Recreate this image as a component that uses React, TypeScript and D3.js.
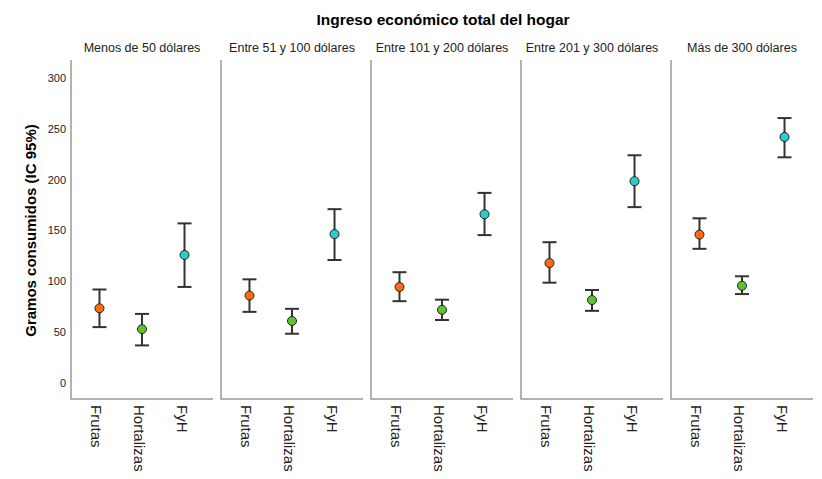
import { useEffect, useRef } from 'react';
import * as d3 from 'd3';

const panels = [
  'Menos de 50 dólares',
  'Entre 51 y 100 dólares',
  'Entre 101 y 200 dólares',
  'Entre 201 y 300 dólares',
  'Más de 300 dólares',
];
const categories = ['Frutas', 'Hortalizas', 'FyH'];
const colors = ['#ff6a0d', '#5ec22d', '#2ccccc'];

// media, límite inferior y superior (IC 95%) por panel
const frutasMean = [73.5, 86, 94.5, 118, 146];
const frutasLow = [55, 70, 80.5, 98.7, 132];
const frutasHigh = [92, 102, 109, 138.5, 162];

const hortMean = [53, 61, 72, 81.6, 95.7];
const hortLow = [37, 48.5, 62, 71, 87.5];
const hortHigh = [68, 73, 82, 91.5, 105];

const fyhMean = [126, 146.5, 166, 198.5, 242];
const fyhLow = [94.5, 121, 145.5, 173, 222];
const fyhHigh = [157, 171, 187, 224, 260.6];

const yTicks = [0, 50, 100, 150, 200, 250, 300];

export default function App() {
  const ref = useRef<SVGSVGElement>(null);

  useEffect(() => {
    const svg = d3.select(ref.current);
    svg.selectAll('*').remove();
    const font = 'Liberation Sans, Arial, sans-serif';

    const top = 60;
    const bottom = 399;
    const left0 = 71;
    const panelStep = 150;
    const panelW = 142;

    const y = d3.scaleLinear().domain([-15.7, 317.7]).range([bottom, top]);
    const x = d3.scalePoint().domain(categories).range([0, panelW]).padding(0.67);

    const means = [frutasMean, hortMean, fyhMean];
    const lows = [frutasLow, hortLow, fyhLow];
    const highs = [frutasHigh, hortHigh, fyhHigh];

    // título
    svg.append('text')
      .attr('x', 443).attr('y', 25)
      .attr('text-anchor', 'middle')
      .style('font-family', font).style('font-size', '15.5px').style('font-weight', 'bold')
      .text('Ingreso económico total del hogar');

    // eje y etiqueta
    svg.append('text')
      .attr('transform', `translate(36,${(top + bottom) / 2 + 1}) rotate(-90)`)
      .attr('text-anchor', 'middle')
      .style('font-family', font).style('font-size', '15px').style('font-weight', 'bold')
      .text('Gramos consumidos (IC 95%)');

    svg.append('g').selectAll('text')
      .data(yTicks).enter().append('text')
      .attr('x', 66).attr('y', d => y(d)).attr('dy', '0.35em')
      .attr('text-anchor', 'end')
      .style('font-family', font).style('font-size', '11px').attr('fill', '#222')
      .text(d => d);

    panels.forEach((p, i) => {
      const g = svg.append('g').attr('transform', `translate(${left0 + i * panelStep},0)`);

      g.append('text')
        .attr('x', panelW / 2).attr('y', 52)
        .attr('text-anchor', 'middle')
        .style('font-family', font).style('font-size', '12.5px').attr('fill', '#222')
        .text(p);

      g.append('path')
        .attr('d', `M0,${top}V${bottom}H${panelW}`)
        .attr('fill', 'none').attr('stroke', '#999').attr('stroke-width', 1.5);

      categories.forEach((c, j) => {
        const cx = x(c) as number;
        const lo = y(lows[j][i]);
        const hi = y(highs[j][i]);
        g.append('line').attr('x1', cx).attr('x2', cx).attr('y1', lo).attr('y2', hi)
          .attr('stroke', '#333').attr('stroke-width', 2);
        [lo, hi].forEach(v => {
          g.append('line').attr('x1', cx - 7).attr('x2', cx + 7).attr('y1', v).attr('y2', v)
            .attr('stroke', '#333').attr('stroke-width', 2);
        });
        g.append('circle').attr('cx', cx).attr('cy', y(means[j][i])).attr('r', 4.5)
          .attr('fill', colors[j]).attr('stroke', '#222').attr('stroke-width', 1);

        g.append('text')
          .attr('transform', `translate(${cx - 8},${bottom + 6}) rotate(90)`)
          .style('font-family', font).style('font-size', '15px').attr('fill', '#222')
          .text(c);
      });
    });
  }, []);

  return <svg ref={ref} width={822} height={479} style={{ display: 'block', margin: -8 }} />;
}
